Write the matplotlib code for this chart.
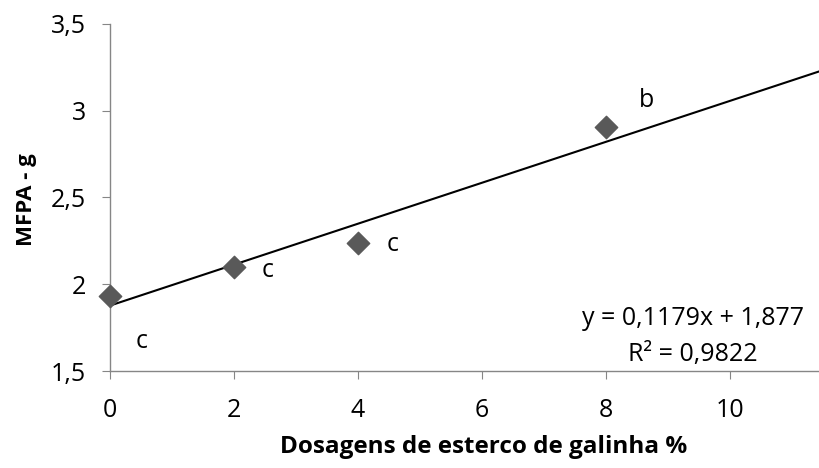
import numpy as np
import matplotlib
matplotlib.use('Agg')
from matplotlib import pyplot as plt
from matplotlib.ticker import FuncFormatter

# dados
dose = [0, 2, 4, 8]
mfpa = [1.932, 2.10, 2.238, 2.906]
letras = ['c', 'c', 'c', 'b']
letra_x = [0.52, 2.55, 4.57, 8.65]
letra_y = [1.67, 2.08, 2.23, 3.06]
a, b = 0.1179, 1.877

plt.rcParams['font.family'] = ['Open Sans', 'DejaVu Sans']

fig = plt.figure(figsize=(8.19, 4.68), dpi=100)
ax = fig.add_axes([0.134, 0.207, 0.866, 0.742])

xmax = 11.44
xl = np.array([0, xmax])
ax.plot(xl, a*xl + b, color='black', lw=1.5, zorder=2)
ax.scatter(dose, mfpa, marker='D', s=130, color='#595959', zorder=3, clip_on=False)

for x, y, t in zip(letra_x, letra_y, letras):
    ax.text(x, y, t, fontsize=18, ha='center', va='center')

ax.text(9.40, 1.805, 'y = 0,1179x + 1,877', fontsize=18, ha='center', va='center')
ax.text(9.40, 1.598, 'R² = 0,9822', fontsize=18, ha='center', va='center')

ax.set_xlim(0, xmax)
ax.set_ylim(1.5, 3.5)
ax.set_xticks([0, 2, 4, 6, 8, 10])
ax.set_yticks([1.5, 2, 2.5, 3, 3.5])
fmt = FuncFormatter(lambda v, p: ('%g' % v).replace('.', ','))
ax.xaxis.set_major_formatter(fmt)
ax.yaxis.set_major_formatter(fmt)

for s in ['top', 'right']:
    ax.spines[s].set_visible(False)
for s in ['left', 'bottom']:
    ax.spines[s].set_color('#868686')
    ax.spines[s].set_linewidth(1)
ax.tick_params(direction='out', length=6, color='#868686', labelsize=18)
ax.tick_params(axis='y', pad=11)
ax.tick_params(axis='x', pad=13)

ax.set_xlabel('Dosagens de esterco de galinha %', fontsize=17.5, fontweight='bold')
ax.set_ylabel('MFPA - g', fontsize=16, fontweight='bold')
ax.xaxis.set_label_coords(0.527, -0.219)
ax.xaxis.label.set_va('center')
ax.yaxis.set_label_coords(-0.118, 0.493)
ax.yaxis.label.set_va('center')

fig.savefig('out.png', dpi=100)
